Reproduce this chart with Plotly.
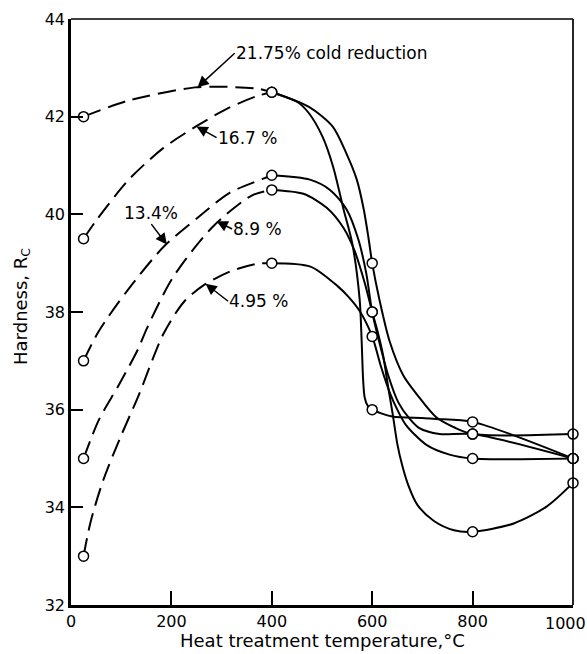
import plotly.graph_objects as go

# Measured hardness (Rockwell C) at each heat-treatment temperature
temperature = [25, 400, 600, 800, 1000]
hrc_21_75 = [42.0, 42.5, 36.0, 35.75, 35.0]
hrc_16_7 = [39.5, 42.5, 39.0, 35.5, 35.5]
hrc_13_4 = [37.0, 40.8, 38.0, 35.5, 35.0]
hrc_8_9 = [35.0, 40.5, 38.0, 33.5, 34.5]
hrc_4_95 = [33.0, 39.0, 37.5, 35.0, 35.0]

# Extra (temperature, hardness) points along each faired curve between measurements
path_21_75 = [(115, 42.33), (247, 42.6), (313, 42.61), (373, 42.57),
              (451, 42.3), (474, 42.07), (501, 41.59), (522, 40.98), (543, 40.1),
              (560, 39.42), (575, 38.26), (579, 37.4), (582, 36.6), (585, 36.25),
              (591, 36.08), (640, 35.86), (700, 35.83), (727, 35.81)]
path_16_7 = [(52, 39.9), (116, 40.72), (183, 41.35), (249, 41.8), (314, 42.18), (373, 42.43),
             (474, 42.2), (521, 41.8), (548, 41.26), (569, 40.72), (583, 40.11), (593, 39.49),
             (614, 38.27), (635, 37.39), (662, 36.7), (690, 36.3), (727, 35.85), (765, 35.63)]
path_13_4 = [(55, 37.6), (113, 38.45), (185, 39.34), (251, 39.92), (316, 40.44), (383, 40.73),
             (476, 40.71), (516, 40.5), (549, 40.1), (572, 39.5), (588, 38.8),
             (615, 37.35), (632, 36.7), (652, 36.15), (674, 35.82), (694, 35.62), (734, 35.5)]
path_8_9 = [(56, 35.8), (95, 36.5), (134, 37.25), (151, 37.66), (202, 38.69), (280, 39.72),
            (359, 40.38), (463, 40.42), (510, 40.13), (543, 39.72), (565, 39.25), (585, 38.6),
            (612, 37.55), (622, 37.1), (632, 36.45), (641, 35.9), (650, 35.3), (660, 34.85),
            (672, 34.45), (690, 34.05), (723, 33.72), (763, 33.53), (882, 33.67), (948, 34.02)]
path_4_95 = [(39, 33.7), (64, 34.55), (97, 35.4), (135, 36.3), (184, 37.55), (226, 38.22),
             (266, 38.56), (319, 38.84), (372, 38.99), (477, 38.93), (531, 38.53), (551, 38.33),
             (575, 38.02), (617, 36.9), (635, 36.35), (650, 36.0), (667, 35.69), (708, 35.28),
             (754, 35.08)]

# the 1000 label is drawn separately, slightly inboard, so it stays on the page
x_ticks = [0, 200, 400, 600, 800]
y_ticks = [32, 34, 36, 38, 40, 42, 44]

series = [
    (hrc_21_75, path_21_75),
    (hrc_16_7, path_16_7),
    (hrc_13_4, path_13_4),
    (hrc_8_9, path_8_9),
    (hrc_4_95, path_4_95),
]

INK = "black"
FONT = "DejaVu Sans"

fig = go.Figure()

for values, path in series:
    pts = sorted(list(zip(temperature, values)) + path)
    # as-worked side of the curve is dashed, the annealed side solid
    cold = [p for p in pts if p[0] <= 400]
    hot = [p for p in pts if p[0] >= 400]
    fig.add_trace(go.Scatter(
        x=[p[0] for p in cold], y=[p[1] for p in cold], mode="lines",
        line=dict(color=INK, width=2, dash="18px,8px", shape="spline", smoothing=0.8),
        hoverinfo="skip", showlegend=False, cliponaxis=False))
    fig.add_trace(go.Scatter(
        x=[p[0] for p in hot], y=[p[1] for p in hot], mode="lines",
        line=dict(color=INK, width=2, shape="spline", smoothing=0.8),
        hoverinfo="skip", showlegend=False, cliponaxis=False))

for values, _ in series:
    fig.add_trace(go.Scatter(
        x=temperature, y=values, mode="markers",
        marker=dict(symbol="circle", size=10, color="white",
                    line=dict(color=INK, width=1.5)),
        showlegend=False, cliponaxis=False))

label_font = dict(family=FONT, size=17, color=INK)
annotations = []


def callout(text, tail, tip, xanchor="left", yanchor="middle"):
    # label sits at the arrow tail; the arrow runs to the curve
    annotations.append(dict(
        x=tip[0], y=tip[1], ax=tail[0], ay=tail[1],
        xref="x", yref="y", axref="x", ayref="y",
        text=text, showarrow=True, arrowhead=2, arrowsize=1.5,
        arrowwidth=1.5, arrowcolor=INK, standoff=0,
        xanchor=xanchor, yanchor=yanchor, font=label_font, borderpad=0))


callout("21.75% cold reduction", (326, 43.3), (252, 42.6))
callout("16.7 %", (290, 41.57), (250, 41.8))
callout("13.4%", (160, 39.8), (191, 39.38), xanchor="center", yanchor="bottom")
callout("8.9 %", (321, 39.7), (290, 39.86))
callout("4.95 %", (313, 38.22), (268, 38.58))

annotations.append(dict(
    x=0.986, y=-0.012, xref="paper", yref="paper", text="1000", showarrow=False,
    xanchor="center", yanchor="top", font=dict(family=FONT, size=16, color=INK)))

# axis titles
annotations.append(dict(
    x=0.5, y=-0.06, xref="paper", yref="paper",
    text="Heat treatment temperature,°C", showarrow=False,
    xanchor="center", yanchor="middle",
    font=dict(family=FONT, size=18, color=INK)))
annotations.append(dict(
    x=-0.098, y=0.51, xref="paper", yref="paper",
    text="Hardness, R<sub>C</sub>", showarrow=False, textangle=-90,
    xanchor="center", yanchor="middle",
    font=dict(family=FONT, size=18, color=INK)))

axis_common = dict(
    showgrid=False, zeroline=False, showline=True, linecolor=INK, linewidth=2.5,
    ticks="inside", tickcolor=INK, tickwidth=1.5, automargin=False,
    tickfont=dict(family=FONT, size=16, color=INK))

fig.update_layout(
    width=587, height=654,
    margin=dict(l=71, r=14, t=19, b=49),
    paper_bgcolor="white", plot_bgcolor="white",
    xaxis=dict(range=[0, 1000], tickvals=x_ticks, ticklen=14, **axis_common),
    yaxis=dict(range=[32, 44], tickvals=y_ticks, ticklen=12, **axis_common),
    annotations=annotations,
    shapes=[
        dict(type="line", xref="paper", yref="paper", x0=0, y0=1, x1=1, y1=1,
             line=dict(color=INK, width=1.7)),
        dict(type="line", xref="paper", yref="paper", x0=1, y0=0, x1=1, y1=1,
             line=dict(color=INK, width=1.7)),
    ],
    showlegend=False,
)

fig.write_html("out.html")
